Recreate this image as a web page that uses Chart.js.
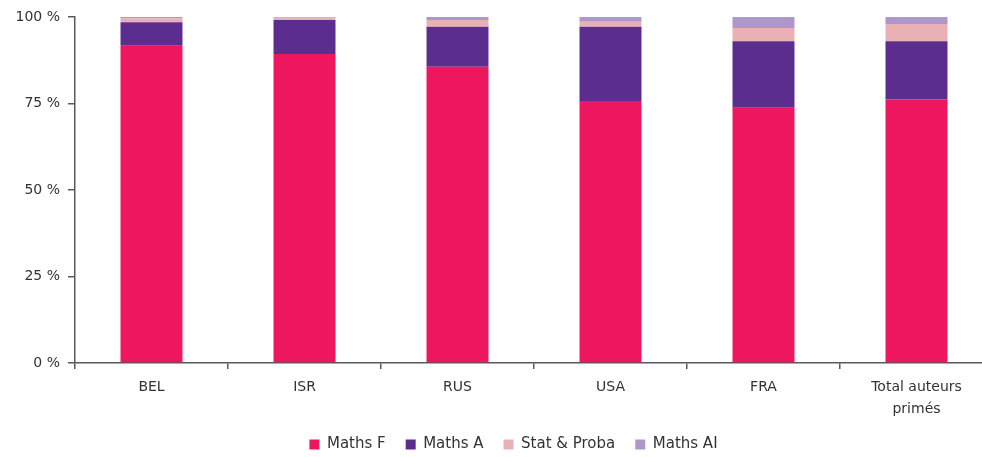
<!DOCTYPE html>
<html>
<head>
<meta charset="utf-8">
<script src="https://cdn.jsdelivr.net/npm/chart.js@4"></script>
<style>
  html, body { margin: 0; padding: 0; background: #fff; overflow: hidden; }
  #wrap { width: 1026px; height: 462px; }
</style>
</head>
<body>
<div id="wrap"><canvas id="myChart" width="1026" height="462"></canvas></div>
<script>
// categories and shares (%) per exam
var categories = ['BEL', 'ISR', 'RUS', 'USA', 'FRA', ['Total auteurs', 'primés']];
var mathsF    = [91.7, 89.3, 85.6, 75.7, 73.8, 76.2];
var mathsA    = [6.8, 9.8, 11.6, 21.5, 19.2, 16.8];
var statProba = [1.1, 0.9, 1.9, 1.4, 3.8, 5.0];
var mathsAI   = [0.4, 0.0, 0.9, 1.4, 3.2, 2.0];
var yTicks = [0, 25, 50, 75, 100];

var font = "'DejaVu Sans', 'Lato', sans-serif";
var textColor = '#333333';
var axisColor = '#595959';

function barSet(label, data, color) {
    return {
        label: label,
        data: data,
        backgroundColor: color,
        borderWidth: 0,
        categoryPercentage: 1,
        barPercentage: 0.405
    };
}

// nudge the legend a bit right, so it sits under the plot rather than the canvas
var shiftLegend = {
    id: 'shiftLegend',
    afterLayout: function(chart) {
        chart.legend.left += 17;
        chart.legend.right += 17;
    }
};

var graphData = {
    type: 'bar',
    data: {
        labels: categories,
        datasets: [
            barSet('Maths F', mathsF, '#EE165E'),
            barSet('Maths A', mathsA, '#5B2D8E'),
            barSet('Stat & Proba', statProba, '#EBB0B5'),
            barSet('Maths AI', mathsAI, '#AD97CB')
        ]
    },
    options: {
        responsive: false,
        animation: false,
        layout: { padding: { left: 0, right: 33, top: 17, bottom: 0 } },
        plugins: {
            tooltip: { enabled: false },
            legend: {
                position: 'bottom',
                labels: {
                    boxWidth: 10,
                    boxHeight: 10,
                    padding: 20,
                    color: textColor,
                    font: { family: font, size: 15 }
                }
            }
        },
        scales: {
            x: {
                stacked: true,
                afterFit: function(s) { s.height = 54; },
                border: { color: axisColor, width: 1.5 },
                grid: { display: true, drawOnChartArea: false, offset: true, tickLength: 6, color: axisColor, lineWidth: 1.5 },
                ticks: { color: textColor, padding: 8, maxRotation: 0, font: { family: font, size: 14, lineHeight: 1.55 } }
            },
            y: {
                stacked: true,
                min: 0,
                max: 100,
                afterFit: function(s) { s.width = 75; },
                afterBuildTicks: function(s) { s.ticks = yTicks.map(function(v) { return { value: v }; }); },
                border: { color: axisColor, width: 1.5 },
                grid: { display: true, drawOnChartArea: false, tickLength: 7, color: axisColor, lineWidth: 1.5 },
                ticks: {
                    color: textColor,
                    padding: 8,
                    font: { family: font, size: 14 },
                    callback: function(value) { return value + ' %'; }
                }
            }
        }
    },
    plugins: [shiftLegend]
};

var ctx = document.getElementById('myChart').getContext('2d');
var myChart = new Chart(ctx, graphData);
</script>
</body>
</html>
